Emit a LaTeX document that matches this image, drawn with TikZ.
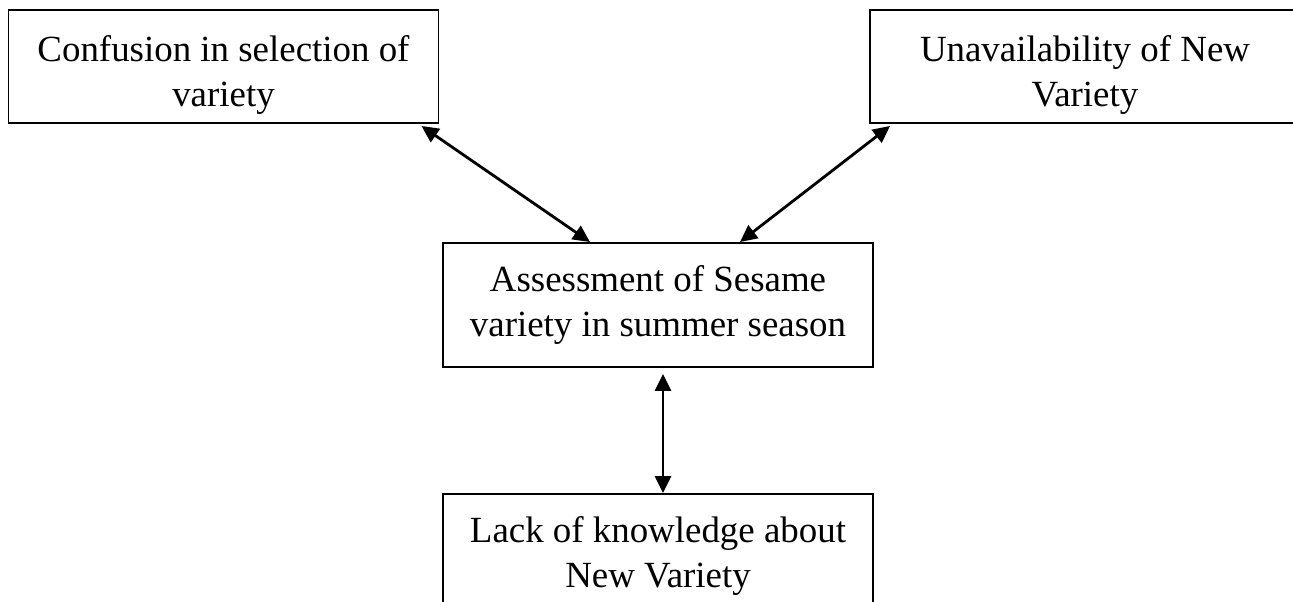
\documentclass[tikz,border=0pt]{standalone}
\usepackage{fontspec}
\setmainfont{Liberation Serif}
\usetikzlibrary{arrows.meta}
\tikzset{
  causebox/.style={draw, line width=1.1pt, minimum width=8.6cm, text width=8.2cm,
    align=flush center, inner sep=0pt, font=\fontsize{21}{25.6}\selectfont},
  toppad/.style={execute at begin node={\rule{0pt}{24pt}}},
  link/.style={line width=1.6pt, {Triangle[length=0.34cm,width=0.32cm]}-{Triangle[length=0.34cm,width=0.32cm]}}
}
\begin{document}
\begin{tikzpicture}
  \useasboundingbox (0,0) rectangle (25.86,-12.04);
  \clip (0,0) rectangle (25.86,-12.04);

  \node [causebox, toppad, minimum height=2.26cm] (conf) at (4.47,-1.33) {Confusion in selection of variety};
  \node [causebox, toppad, minimum height=2.26cm] (unavail) at (21.7,-1.33) {Unavailability of New Variety};
  \node [causebox, minimum height=2.48cm] (assess) at (13.16,-6.1) {Assessment of Sesame variety in summer season};
  \node [causebox, minimum height=2.48cm] (lack) at (13.16,-11.12) {Lack of knowledge about New Variety};

  \draw [link] ([xshift=-0.36cm,yshift=-0.04cm]conf.south east)--([xshift=-1.36cm]assess.north);
  \draw [link] ([xshift=0.42cm,yshift=-0.04cm]unavail.south west)--([xshift=1.64cm]assess.north);
  \draw [link] ([xshift=0.1cm,yshift=-0.12cm]assess.south)--([xshift=0.1cm]lack.north);
\end{tikzpicture}
\end{document}
